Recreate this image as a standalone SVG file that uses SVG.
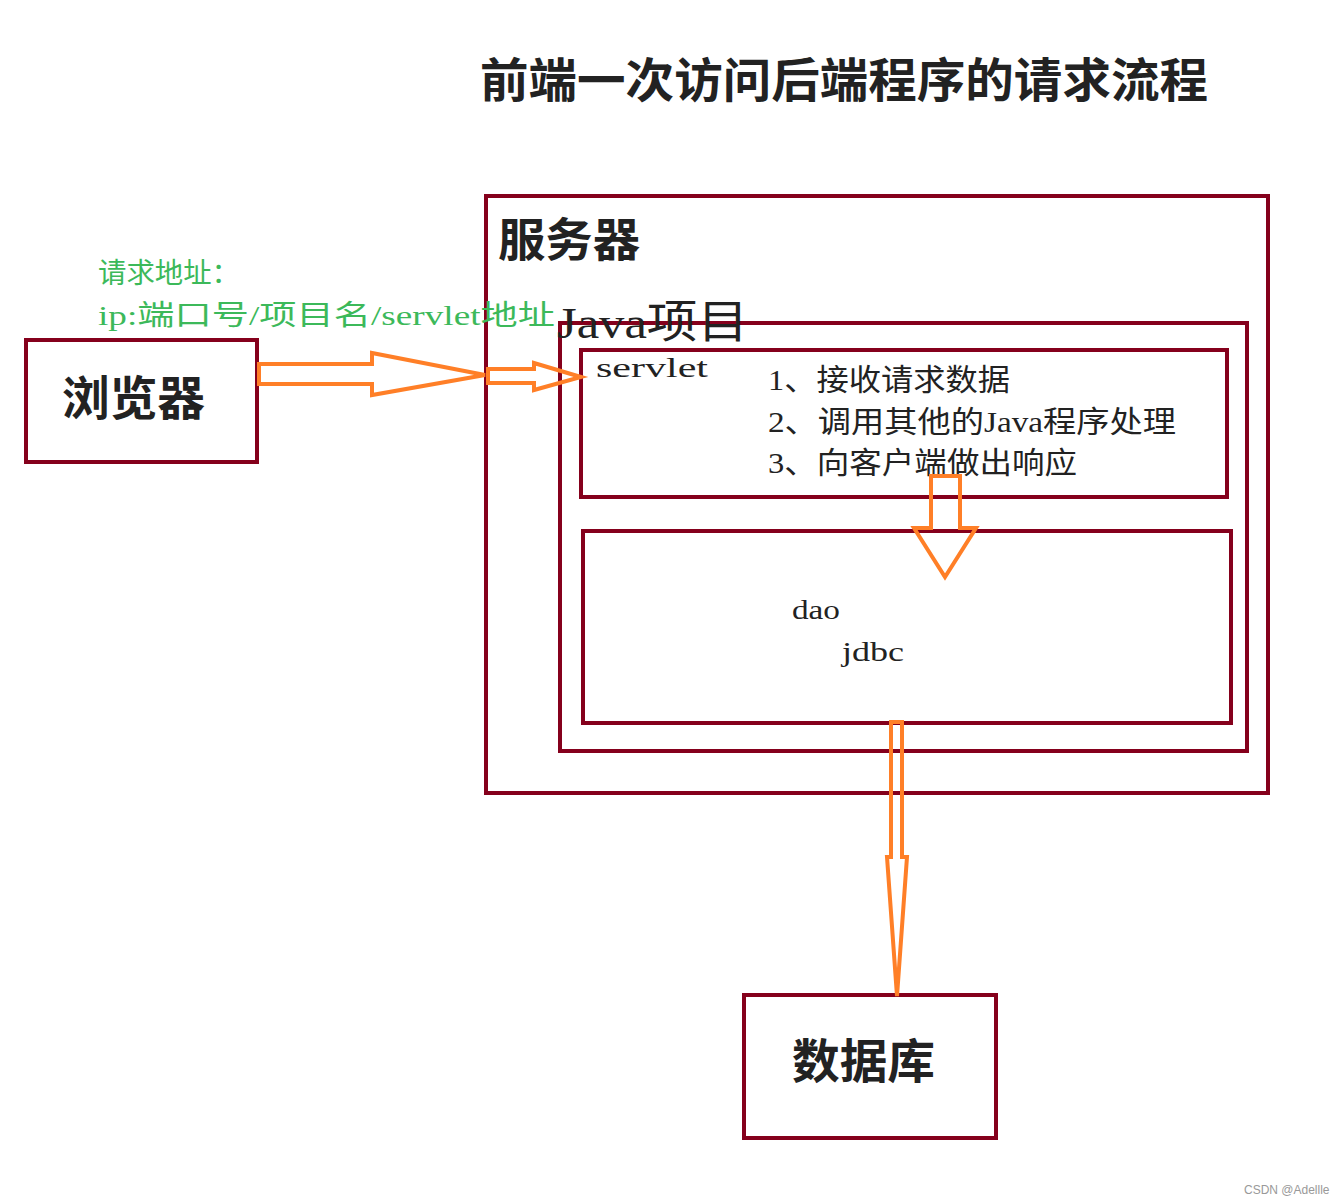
<svg xmlns="http://www.w3.org/2000/svg" width="1344" height="1204" viewBox="0 0 1344 1204">
<style>
.box{fill:none;stroke:#85001c;stroke-width:4}
.arr{fill:none;stroke:#ff7f27;stroke-width:4;stroke-linejoin:miter}
.t{font-family:"Liberation Serif","Noto Sans CJK SC",serif;fill:#222}
.g{font-family:"Liberation Serif","Noto Sans CJK SC",serif;fill:#3cb95a}
</style>
<rect width="1344" height="1204" fill="#fff"/>
<text class="t" x="480" y="97" font-size="47" font-weight="bold" textLength="728" lengthAdjust="spacingAndGlyphs">前端一次访问后端程序的请求流程</text>
<g id="server">
<rect class="box" x="486" y="196" width="782" height="597"/>
<text class="t" x="498" y="256" font-size="46" font-weight="bold" textLength="142" lengthAdjust="spacingAndGlyphs">服务器</text>
</g>
<g id="java">
<rect class="box" x="560" y="323" width="687" height="428"/>
<text class="t" x="557" y="338" font-size="45" textLength="191" lengthAdjust="spacingAndGlyphs">Java项目</text>
</g>
<g id="servlet">
<rect class="box" x="581" y="350" width="646" height="147"/>
<text class="t" x="596" y="377" font-size="28" textLength="112" lengthAdjust="spacingAndGlyphs">servlet</text>
<text class="t" x="768" y="390" font-size="30" textLength="242" lengthAdjust="spacingAndGlyphs">1、接收请求数据</text>
<text class="t" x="768" y="432" font-size="30" textLength="408" lengthAdjust="spacingAndGlyphs">2、调用其他的Java程序处理</text>
<text class="t" x="768" y="473" font-size="30" textLength="309" lengthAdjust="spacingAndGlyphs">3、向客户端做出响应</text>
</g>
<g id="dao">
<rect class="box" x="583" y="531" width="648" height="192"/>
<text class="t" x="792" y="619" font-size="28" textLength="48" lengthAdjust="spacingAndGlyphs">dao</text>
<text class="t" x="842" y="661" font-size="28" textLength="62" lengthAdjust="spacingAndGlyphs">jdbc</text>
</g>
<g id="browser">
<rect class="box" x="26" y="340" width="231" height="122"/>
<text class="t" x="62" y="415" font-size="47" font-weight="bold" textLength="143" lengthAdjust="spacingAndGlyphs">浏览器</text>
</g>
<g id="database">
<rect class="box" x="744" y="995" width="252" height="143"/>
<text class="t" x="792" y="1078" font-size="47" font-weight="bold" textLength="143" lengthAdjust="spacingAndGlyphs">数据库</text>
</g>
<g id="label">
<text class="g" x="98" y="283" font-size="28" textLength="142" lengthAdjust="spacingAndGlyphs">请求地址：</text>
<text class="g" x="98" y="325" font-size="28" textLength="457" lengthAdjust="spacingAndGlyphs">ip:端口号/项目名/servlet地址</text>
</g>
<g id="connectors">
<polygon class="arr" points="259,364 372,364 372,353 485,375 372,395 372,384 259,384"/>
<polygon class="arr" points="488,369 534,369 534,363 581,377 534,390 534,383 488,383"/>
<polygon class="arr" points="931,476 960,476 960,528 976,528 945,577 914,528 931,528"/>
<polygon class="arr" points="891,722 902,722 902,857 907,857 897,996 887,857 891,857"/>
</g>
<text x="1244" y="1194" font-family="Liberation Sans,Arial,sans-serif" font-size="12" fill="#999">CSDN @Adellle</text>
</svg>
